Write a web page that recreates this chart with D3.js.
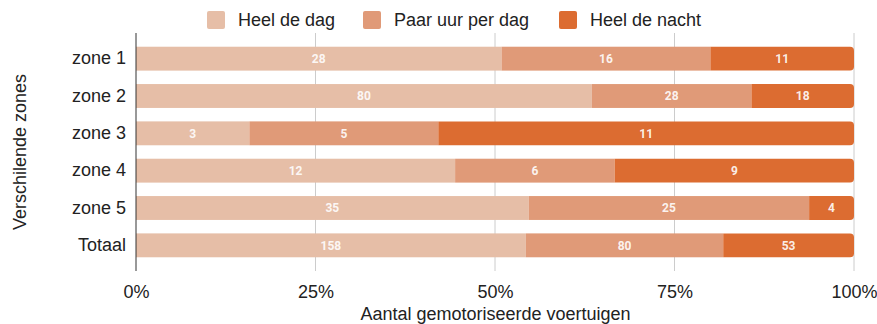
<!DOCTYPE html>
<html>
<head>
<meta charset="utf-8">
<script src="https://cdn.jsdelivr.net/npm/d3@7"></script>
<style>
  html, body { margin: 0; padding: 0; background: #fff; }
  svg { display: block; }
</style>
</head>
<body>
<svg id="chart" width="877" height="324"></svg>
<script>
// Zones shown on the vertical axis
const categories = ["zone 1", "zone 2", "zone 3", "zone 4", "zone 5", "Totaal"];
// Number of motorised vehicles per parking duration
const heelDeDag = [28, 80, 3, 12, 35, 158];
const paarUurPerDag = [16, 28, 5, 6, 25, 80];
const heelDeNacht = [11, 18, 11, 9, 4, 53];
const seriesNames = ["Heel de dag", "Paar uur per dag", "Heel de nacht"];
const seriesColors = ["#e6bea7", "#e09a78", "#dc6c31"];
const tickValues = [0, 0.25, 0.5, 0.75, 1];

const svg = d3.select("#chart");
const margin = { left: 136, right: 22, top: 33, bottom: 53 };
const W = 877, H = 324;
const x0 = margin.left, x1 = W - margin.right;
const y0 = margin.top, y1 = H - margin.bottom;
const font = "Arial, 'Liberation Sans', sans-serif";
const fs = 18;

const rows = categories.map((c, i) => {
  const vals = [heelDeDag[i], paarUurPerDag[i], heelDeNacht[i]];
  const total = d3.sum(vals);
  const row = { cat: c, total };
  seriesNames.forEach((s, k) => row[s] = vals[k] / total);
  row.raw = vals;
  return row;
});

const x = d3.scaleLinear().domain([0, 1]).range([x0, x1 - 1]);
const y = d3.scaleBand().domain(categories).range([y0 + 7, y1 - 7]).paddingInner(0.36).paddingOuter(0.18);

// Gridlines
svg.append("g")
  .selectAll("line")
  .data(tickValues.slice(1))
  .join("line")
  .attr("x1", d => x(d)).attr("x2", d => x(d))
  .attr("y1", y0).attr("y2", y1)
  .attr("stroke", "#cccccc").attr("stroke-width", 1);

// Stacked bars
const stack = d3.stack().keys(seriesNames);
const layers = stack(rows);
const r = 4;

layers.forEach((layer, k) => {
  const g = svg.append("g");
  layer.forEach((seg, i) => {
    const xa = x(seg[0]), xb = x(seg[1]);
    const yt = y(categories[i]), h = y.bandwidth();
    if (k === layers.length - 1) {
      // last segment with rounded right end
      g.append("path")
        .attr("d", `M${xa},${yt}H${xb - r}Q${xb},${yt} ${xb},${yt + r}V${yt + h - r}Q${xb},${yt + h} ${xb - r},${yt + h}H${xa}Z`)
        .attr("fill", seriesColors[k]);
    } else {
      g.append("rect")
        .attr("x", xa).attr("y", yt)
        .attr("width", xb - xa).attr("height", h)
        .attr("fill", seriesColors[k]);
    }
    g.append("text")
      .attr("x", (xa + xb) / 2)
      .attr("y", yt + h / 2)
      .attr("dy", "0.36em")
      .attr("text-anchor", "middle")
      .attr("font-family", "Roboto, Arial, sans-serif")
      .attr("font-weight", "bold")
      .attr("font-size", 12)
      .attr("fill", "#ffffff")
      .attr("fill-opacity", 0.9)
      .text(rows[i].raw[k]);
  });
});

// Baseline
svg.append("line")
  .attr("x1", x(0)).attr("x2", x(0))
  .attr("y1", y0).attr("y2", y1)
  .attr("stroke", "#333333").attr("stroke-width", 1);

// X axis
const xAxis = svg.append("g")
  .attr("transform", `translate(0,${y1})`)
  .call(d3.axisBottom(x).tickValues(tickValues).tickFormat(d3.format(".0%")).tickSize(0).tickPadding(14));
xAxis.select(".domain").remove();
xAxis.selectAll("text")
  .attr("font-family", font).attr("font-size", fs).attr("fill", "#222");

// Y axis
const yAxis = svg.append("g")
  .attr("transform", `translate(${x0},0)`)
  .call(d3.axisLeft(y).tickSize(0).tickPadding(10));
yAxis.select(".domain").remove();
yAxis.selectAll("text")
  .attr("font-family", font).attr("font-size", fs).attr("fill", "#222");

// Axis titles
svg.append("text")
  .attr("x", (x0 + x1) / 2).attr("y", 320)
  .attr("text-anchor", "middle")
  .attr("font-family", font).attr("font-size", fs).attr("fill", "#222")
  .text("Aantal gemotoriseerde voertuigen");

svg.append("text")
  .attr("transform", `translate(26,${(y0 + y1) / 2}) rotate(-90)`)
  .attr("text-anchor", "middle")
  .attr("font-family", font).attr("font-size", fs).attr("fill", "#222")
  .text("Verschilende zones");

// Legend
const legendX = [207, 363, 559];
const legend = svg.append("g");
seriesNames.forEach((s, k) => {
  legend.append("rect")
    .attr("x", legendX[k]).attr("y", 11)
    .attr("width", 18).attr("height", 18)
    .attr("rx", 2)
    .attr("fill", seriesColors[k]);
  legend.append("text")
    .attr("x", legendX[k] + 31).attr("y", 19.5)
    .attr("dy", "0.36em")
    .attr("font-family", font).attr("font-size", fs).attr("fill", "#222")
    .text(s);
});
</script>
</body>
</html>
